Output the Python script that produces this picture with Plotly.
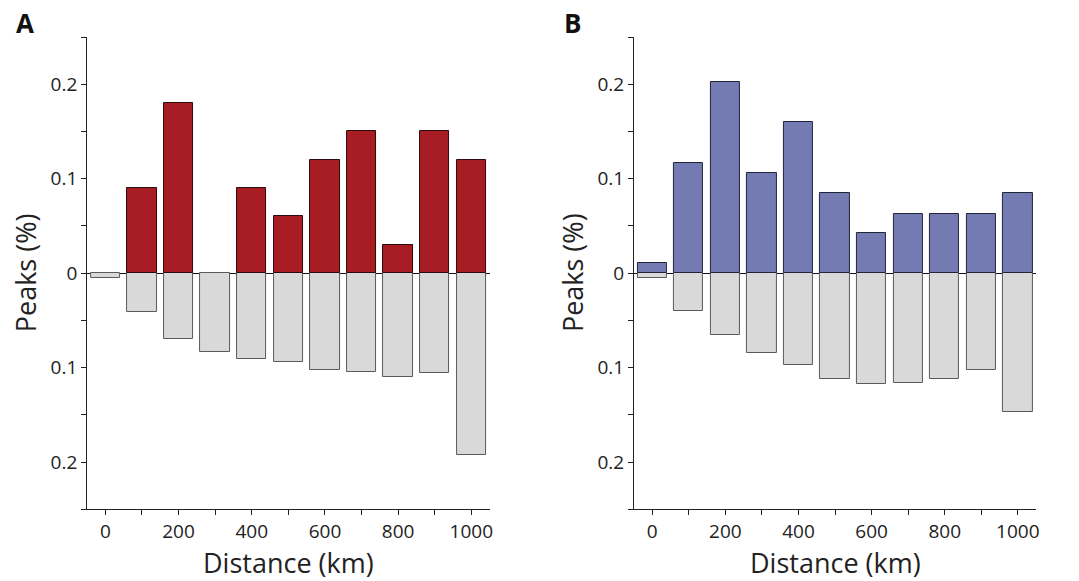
import plotly.graph_objects as go

distance = [0, 100, 200, 300, 400, 500, 600, 700, 800, 900, 1000]

# Panel A
a_pos = [0.0, 0.09, 0.18, 0.0, 0.09, 0.06, 0.12, 0.15, 0.03, 0.15, 0.12]
a_neg = [0.005, 0.041, 0.070, 0.083, 0.091, 0.094, 0.103, 0.105, 0.110, 0.106, 0.192]

# Panel B
b_pos = [0.011, 0.117, 0.202, 0.106, 0.160, 0.085, 0.042, 0.063, 0.063, 0.063, 0.085]
b_neg = [0.005, 0.040, 0.066, 0.085, 0.097, 0.112, 0.117, 0.116, 0.112, 0.102, 0.147]

y_tickvals = [-0.25, -0.2, -0.15, -0.1, -0.05, 0, 0.05, 0.1, 0.15, 0.2, 0.25]
y_ticktext = ["", "0.2", "", "0.1", "", "0", "", "0.1", "", "0.2", ""]
x_tickvals = [0, 100, 200, 300, 400, 500, 600, 700, 800, 900, 1000]
x_ticktext = ["0", "", "200", "", "400", "", "600", "", "800", "", "1000"]

RED = "#A81D24"
BLUE = "#737BB2"
GREY = "#D9D9D9"
FONT = "Open Sans"

fig = go.Figure()

def add_panel(pos, neg, color, edge, xa, ya):
    fig.add_trace(go.Bar(x=distance, y=[-v for v in neg], width=80,
                         marker=dict(color=GREY, line=dict(color="#5a5a5a",
                                                           width=[1 if v else 0 for v in neg])),
                         xaxis=xa, yaxis=ya, showlegend=False, hoverinfo="skip"))
    fig.add_trace(go.Bar(x=distance, y=pos, width=80,
                         marker=dict(color=color, line=dict(color=edge,
                                                            width=[1 if v else 0 for v in pos])),
                         xaxis=xa, yaxis=ya, showlegend=False, hoverinfo="skip"))

add_panel(a_pos, a_neg, RED, "#2a0a0a", "x", "y")
add_panel(b_pos, b_neg, BLUE, "#22243a", "x2", "y2")

xdomA = [87.3 / 1079, 491 / 1079]
xdomB = [635.7 / 1079, 1039 / 1079]
ydom = [1 - 509.3 / 581, 1 - 37 / 581]

def xaxis(dom, anchor):
    return dict(domain=dom, anchor=anchor, range=[-50, 1050], tickvals=x_tickvals,
                ticktext=x_ticktext, ticks="outside", ticklen=5, tickwidth=1,
                tickcolor="#222", showline=True, linecolor="#222", linewidth=1,
                showgrid=False, zeroline=False,
                tickfont=dict(family=FONT, size=19, color="#222"))

def yaxis(anchor):
    return dict(domain=ydom, anchor=anchor, range=[-0.25, 0.25], tickvals=y_tickvals,
                ticktext=y_ticktext, ticks="outside", ticklen=5, tickwidth=1,
                tickcolor="#222", showline=True, linecolor="#222", linewidth=1,
                showgrid=False, zeroline=True, zerolinecolor="#111", zerolinewidth=1,
                tickfont=dict(family=FONT, size=19, color="#222"))

annotations = []
for dom, lab in [(xdomA, "A"), (xdomB, "B")]:
    cx = (dom[0] + dom[1]) / 2
    annotations.append(dict(text="Distance (km)", xref="paper", yref="paper",
                            x=cx, y=1 - 562 / 581, showarrow=False,
                            font=dict(family=FONT, size=27, color="#222"),
                            xanchor="center", yanchor="middle"))
    annotations.append(dict(text="Peaks (%)", xref="paper", yref="paper",
                            x=dom[0] - 62 / 1079, y=1 - 273 / 581, showarrow=False,
                            textangle=-90,
                            font=dict(family=FONT, size=27, color="#222"),
                            xanchor="center", yanchor="middle"))
    annotations.append(dict(text="<b>" + lab + "</b>", xref="paper", yref="paper",
                            x=dom[0] - 62 / 1079, y=1 - 23 / 581, showarrow=False,
                            font=dict(family=FONT, size=26, color="#111"),
                            xanchor="center", yanchor="middle"))

fig.update_layout(
    width=1079, height=581,
    margin=dict(l=0, r=0, t=0, b=0),
    paper_bgcolor="white", plot_bgcolor="white",
    barmode="overlay", bargap=0,
    xaxis=xaxis(xdomA, "y"), yaxis=yaxis("x"),
    xaxis2=xaxis(xdomB, "y2"), yaxis2=yaxis("x2"),
    annotations=annotations,
)

fig.write_html("out.html", config={"displayModeBar": False},
               post_script="document.body.style.margin='0';document.body.style.overflow='hidden';")
